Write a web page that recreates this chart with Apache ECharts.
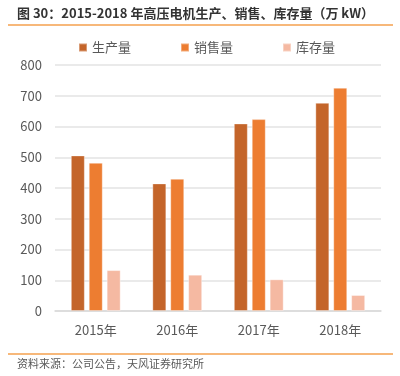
<!DOCTYPE html>
<html>
<head>
<meta charset="utf-8">
<script src="https://cdn.jsdelivr.net/npm/echarts@6/dist/echarts.min.js"></script>
<style>
  html, body { margin: 0; padding: 0; background: #fff; }
  #main { width: 400px; height: 376px; }
</style>
</head>
<body>
<div id="main"></div>
<script>
const years = ['2015年', '2016年', '2017年', '2018年'];
const production = [506, 415, 610, 677];
const sales = [482, 430, 624, 726];
const inventory = [133, 118, 103, 52];

const font = '"Noto Sans CJK SC", "Noto Sans", sans-serif';

const chart = echarts.init(document.getElementById('main'), null, { renderer: 'canvas' });

var option = {
  animation: false,
  color: ['#C4652A', '#ED7D31', '#F5B9A2'],
  textStyle: { fontFamily: font },
  graphic: [
    {
      type: 'text', left: 17, top: 7,
      style: {
        text: '图 30：2015-2018 年高压电机生产、销售、库存量（万 kW）',
        font: 'bold 13px ' + font, fill: '#333'
      }
    },
    {
      type: 'line', shape: { x1: 8, y1: 25, x2: 393, y2: 25 },
      style: { stroke: '#F5A04E', lineWidth: 1.5 }
    },
    {
      type: 'line', shape: { x1: 8, y1: 354, x2: 393, y2: 354 },
      style: { stroke: '#F5A04E', lineWidth: 1.5 }
    },
    {
      type: 'text', left: 17, top: 358,
      style: {
        text: '资料来源：公司公告，天风证券研究所',
        font: '11px ' + font, fill: '#595959'
      }
    }
  ],
  legend: {
    top: 39,
    left: 76,
    padding: 2,
    itemWidth: 8,
    itemHeight: 8,
    itemGap: 49,
    icon: 'rect',
    textStyle: { fontSize: 13, color: '#595959', fontFamily: font },
    data: ['生产量', '销售量', '库存量']
  },
  grid: {
    left: 55,
    right: 19,
    top: 65,
    bottom: 65
  },
  xAxis: {
    type: 'category',
    data: years,
    axisTick: { show: false },
    axisLine: { lineStyle: { color: '#D9D9D9', width: 1.5 } },
    axisLabel: { color: '#595959', fontSize: 13, margin: 13, fontFamily: font }
  },
  yAxis: {
    type: 'value',
    min: 0,
    max: 800,
    interval: 100,
    axisLine: { show: false },
    axisTick: { show: false },
    splitLine: { lineStyle: { color: '#E3E3E3', width: 1.5 } },
    axisLabel: { color: '#595959', fontSize: 13, margin: 13, fontFamily: font }
  },
  series: [
    {
      name: '生产量', type: 'bar', data: production,
      barWidth: 14, barGap: '28%',
      itemStyle: { borderColor: 'rgba(255,255,255,0.35)', borderWidth: 1 }
    },
    {
      name: '销售量', type: 'bar', data: sales,
      barWidth: 14, barGap: '28%',
      itemStyle: { borderColor: 'rgba(255,255,255,0.35)', borderWidth: 1 }
    },
    {
      name: '库存量', type: 'bar', data: inventory,
      barWidth: 14, barGap: '28%',
      itemStyle: { borderColor: 'rgba(255,255,255,0.35)', borderWidth: 1 }
    }
  ]
};
chart.setOption(option);
</script>
</body>
</html>
